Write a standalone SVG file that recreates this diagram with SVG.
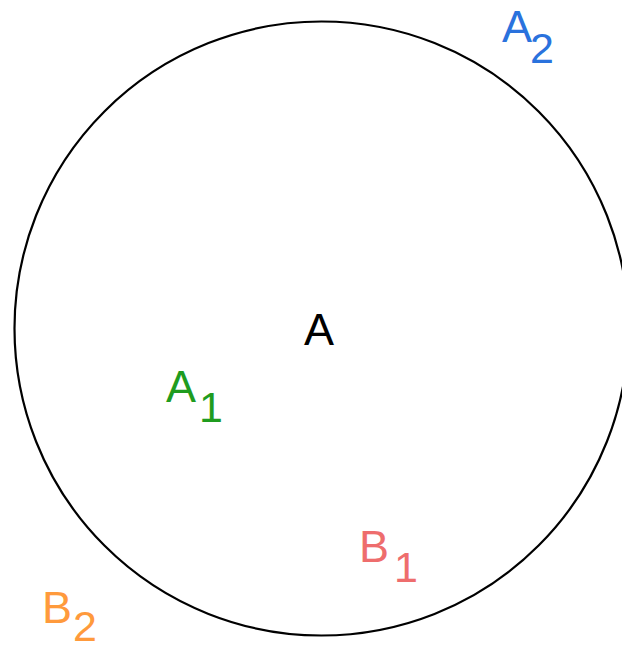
<svg xmlns="http://www.w3.org/2000/svg" width="622" height="650" viewBox="0 0 622 650">
<style>
text{font-family:"Liberation Sans",Arial,sans-serif;font-size:45px}
.sub{font-size:43px}
</style>
<rect width="622" height="650" fill="#ffffff"/>
<g id="circle"><circle cx="321.5" cy="328.5" r="307" fill="none" stroke="#000" stroke-width="2.2"/></g>
<g id="A"><text x="304" y="345" fill="#000">A</text></g>
<g id="A1"><text x="166" y="402" fill="#1f9c1f">A</text><text class="sub" x="199" y="422" fill="#1f9c1f">1</text></g>
<g id="A2"><text x="502" y="42" fill="#2a72dd">A</text><text class="sub" x="530" y="63" fill="#2a72dd">2</text></g>
<g id="B1"><text x="359" y="562" fill="#ee6d6d">B</text><text class="sub" x="394" y="582" fill="#ee6d6d">1</text></g>
<g id="B2"><text x="42" y="623" fill="#ff9a3c">B</text><text class="sub" x="73" y="641" fill="#ff9a3c">2</text></g>
<g id="connectors"></g>
</svg>
